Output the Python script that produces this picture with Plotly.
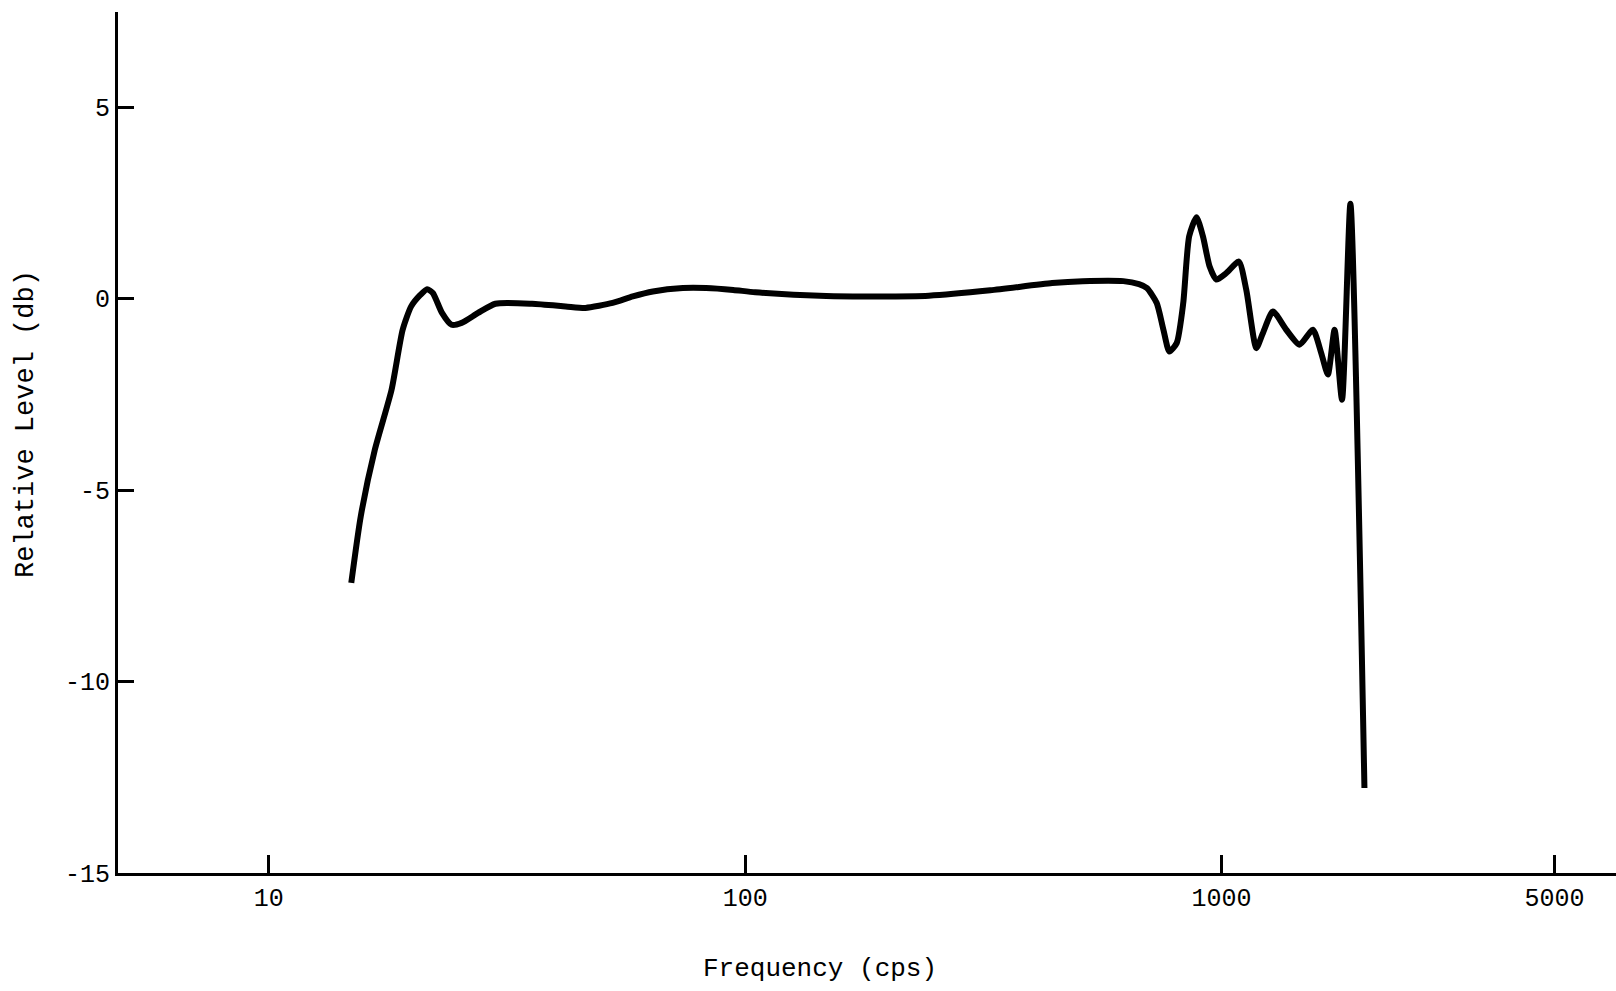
import plotly.graph_objects as go

# Frequency (cps) and relative level (db)
freq = [14.9, 15.6, 16.7, 18.1, 19.1, 19.9, 20.8, 21.5, 22.1, 23.1, 24.2, 25.4,
        27.5, 29.9, 35.7, 42.0, 46.2, 52.7, 58.1, 64.0, 74.0, 82.8, 94.4, 105,
        148, 190, 243, 327, 441, 511, 622, 671, 697, 731, 755, 777, 805, 831,
        855, 886, 914, 944, 975, 1023, 1087, 1127, 1183, 1221, 1282, 1367, 1458,
        1555, 1619, 1672, 1727, 1790, 1864, 1995]
level = [-7.42, -5.68, -3.94, -2.38, -0.81, -0.2, 0.10, 0.25, 0.15, -0.37, -0.68, -0.63,
         -0.37, -0.13, -0.13, -0.2, -0.24, -0.11, 0.06, 0.19, 0.28, 0.28, 0.23, 0.17,
         0.07, 0.06, 0.08, 0.22, 0.41, 0.46, 0.46, 0.38, 0.28, -0.11, -0.81, -1.38, -1.16, -0.11,
         1.63, 2.13, 1.63, 0.84, 0.5, 0.67, 0.97, 0.23, -1.29, -0.9, -0.33, -0.81, -1.2,
         -0.81, -1.42, -1.98, -0.81, -2.64, 2.48, -12.78]

x_tickvals = [10, 100, 1000, 5000]
x_ticktext = ["10", "100", "1000", "5000"]
y_tickvals = [-15, -10, -5, 0, 5]
y_ticktext = ["-15", "-10", "-5", "0", "5"]

x_title = "Frequency (cps)"
y_title = "Relative Level (db)"

FONT = "Liberation Mono, Courier New, monospace"

fig = go.Figure()
fig.add_trace(go.Scatter(
    x=freq, y=level, mode="lines",
    line=dict(color="black", width=6, shape="spline", smoothing=0.6),
    showlegend=False, hoverinfo="skip",
))

fig.update_layout(
    width=1616, height=991,
    margin=dict(l=118, r=0, t=12, b=118),
    paper_bgcolor="white", plot_bgcolor="white",
    font=dict(family=FONT, color="black"),
    xaxis=dict(
        type="log", range=[0.6835, 3.828],
        tickvals=x_tickvals, ticktext=x_ticktext,
        showline=True, linecolor="black", linewidth=3,
        ticks="inside", ticklen=18, tickwidth=2.5, tickcolor="black",
        showgrid=False, zeroline=False,
        tickfont=dict(family=FONT, size=25, color="black"),
    ),
    yaxis=dict(
        range=[-15, 7.49],
        tickvals=y_tickvals, ticktext=y_ticktext,
        showline=True, linecolor="black", linewidth=3,
        ticks="inside", ticklen=16, tickwidth=2.5, tickcolor="black",
        showgrid=False, zeroline=False,
        tickfont=dict(family=FONT, size=25, color="black"),
    ),
    annotations=[
        dict(text=x_title, xref="paper", yref="paper", x=(820 - 118) / 1498, y=(873 - 969) / 861,
             xanchor="center", yanchor="middle", showarrow=False,
             font=dict(family=FONT, size=26, color="black")),
        dict(text=y_title, xref="paper", yref="paper", x=(26 - 118) / 1498, y=0.5215,
             xanchor="center", yanchor="middle", showarrow=False, textangle=-90,
             font=dict(family=FONT, size=27, color="black")),
    ],
)

fig.write_html("out.html", config={"displayModeBar": False},
               post_script="document.body.style.margin='0';")
